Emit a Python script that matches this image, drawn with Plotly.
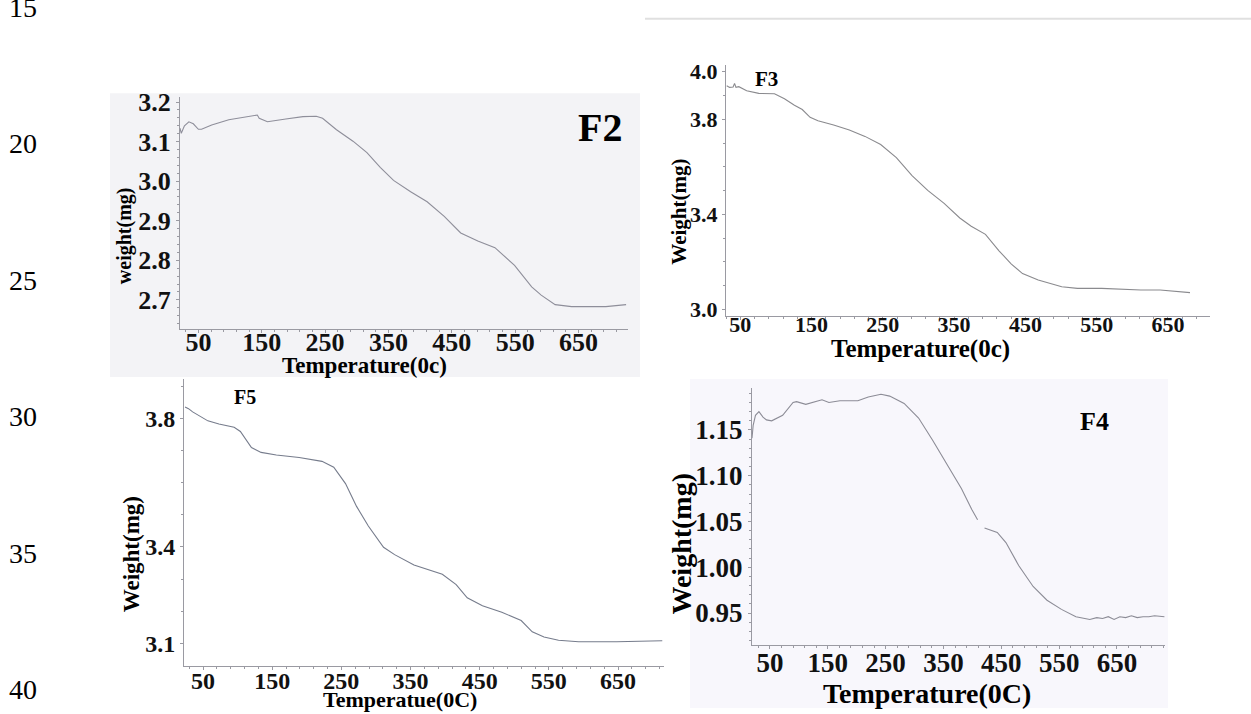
import plotly.graph_objects as go

# ---------------- data ----------------
f2_temp = [21, 23, 28, 35, 42, 50, 55, 71, 98, 124, 143, 146, 159, 188, 215, 236, 246,
           268, 294, 316, 337, 358, 385, 411, 438, 464, 491, 518, 549, 576, 591, 613,
           639, 666, 693, 725]
f2_weight = [3.134, 3.121, 3.140, 3.150, 3.145, 3.131, 3.131, 3.142, 3.155, 3.161, 3.167,
             3.159, 3.150, 3.157, 3.163, 3.164, 3.159, 3.130, 3.101, 3.072, 3.035, 3.002,
             2.973, 2.948, 2.911, 2.869, 2.849, 2.832, 2.787, 2.733, 2.712, 2.688, 2.683,
             2.683, 2.683, 2.688]

f3_temp = [31, 35, 40, 42, 44, 48, 59, 76, 98, 112, 126, 137, 148, 159, 181, 203, 225,
           247, 269, 291, 313, 336, 358, 374, 394, 413, 430, 446, 468, 501, 523, 557,
           612, 639, 681]
f3_weight = [3.941, 3.934, 3.936, 3.951, 3.934, 3.937, 3.920, 3.909, 3.907, 3.886, 3.859,
             3.841, 3.808, 3.794, 3.776, 3.755, 3.728, 3.694, 3.639, 3.563, 3.501, 3.446,
             3.385, 3.350, 3.316, 3.247, 3.192, 3.151, 3.124, 3.096, 3.089, 3.089, 3.082,
             3.082, 3.071]

f5_temp = [24, 29, 35, 46, 57, 73, 95, 104, 112, 120, 134, 156, 189, 222, 239, 256, 272,
           289, 311, 327, 355, 377, 396, 416, 432, 454, 482, 510, 526, 543, 564, 593,
           648, 714]
f5_weight = [3.835, 3.830, 3.820, 3.805, 3.792, 3.782, 3.772, 3.759, 3.734, 3.709, 3.694,
             3.686, 3.678, 3.666, 3.648, 3.597, 3.526, 3.465, 3.399, 3.376, 3.344, 3.328,
             3.315, 3.283, 3.242, 3.217, 3.197, 3.171, 3.136, 3.120, 3.110, 3.105, 3.105,
             3.108]

f4_temp = [19, 21, 25, 31, 38, 44, 53, 72, 90, 96, 112, 140, 152, 171, 202, 220, 242, 257,
           282, 307, 331, 356, 381, 399, 409, 415, 421, 443, 458, 480, 505, 529, 554, 579,
           603, 615, 625, 635, 645, 655, 665, 675, 685, 695, 705, 715, 732]
f4_weight = [1.141, 1.155, 1.166, 1.170, 1.164, 1.161, 1.160, 1.166, 1.180, 1.181, 1.178,
             1.183, 1.180, 1.182, 1.182, 1.186, 1.189, 1.187, 1.179, 1.163, 1.139, 1.113,
             1.086, 1.063, 1.052, None, 1.043, 1.038, 1.027, 1.002, 0.979, 0.964, 0.954,
             0.946, 0.943, 0.945, 0.944, 0.946, 0.943, 0.946, 0.945, 0.947, 0.945, 0.946,
             0.946, 0.947, 0.946]

x_ticks = [50, 150, 250, 350, 450, 550, 650]
f2_yticks = [2.7, 2.8, 2.9, 3.0, 3.1, 3.2]
f3_yticks = [3.0, 3.4, 3.8, 4.0]
f5_yticks = [3.1, 3.4, 3.8]
f4_yticks = [0.95, 1.00, 1.05, 1.10, 1.15]
line_numbers = ["15", "20", "25", "30", "35", "40"]

# ---------------- layout helpers ----------------
W, H = 1251, 714
def px(x):
    return x / W
def py(y):
    return 1 - y / H

SERIF = "Liberation Serif"
AX = "#9a9aa2"

fig = go.Figure()

panels = [
    dict(x=f2_temp, y=f2_weight, xd=(180, 628), yd=(90, 327), xr=[21, 728], yr=[2.626, 3.2124],
         yt=f2_yticks, fmt=".1f", fs=26, ydt=0.02, col="#8e8e9a", so=-13),
    dict(x=f3_temp, y=f3_weight, xd=(726, 1210), yd=(57, 314), xr=[30, 709], yr=[2.971, 4.029],
         yt=f3_yticks, fmt=".1f", fs=22, ydt=0.1, col="#8a8a8e", so=-15),
    dict(x=f5_temp, y=f5_weight, xd=(184, 664), yd=(378, 671), xr=[22.5, 716.5], yr=[3.030, 3.922],
         yt=f5_yticks, fmt=".1f", fs=24, ydt=0.1, col="#767c8c", so=-10),
    dict(x=f4_temp, y=f4_weight, xd=(752, 1165), yd=(387, 650), xr=[19, 733], yr=[0.9147, 1.196],
         yt=f4_yticks, fmt=".2f", fs=27, ydt=0.01, col="#8c8c96", so=-10),
]

for i, p in enumerate(panels, start=1):
    xa = "x" if i == 1 else f"x{i}"
    ya = "y" if i == 1 else f"y{i}"
    fig.add_trace(go.Scatter(x=p["x"], y=p["y"], mode="lines", xaxis=xa, yaxis=ya,
                             line=dict(color=p["col"], width=1.1), connectgaps=False,
                             showlegend=False, hoverinfo="skip"))
    tf = dict(family=SERIF, size=p["fs"], color="#111111", weight=700)
    xkey = "xaxis" if i == 1 else f"xaxis{i}"
    ykey = "yaxis" if i == 1 else f"yaxis{i}"
    fig.update_layout({
        xkey: dict(domain=[px(p["xd"][0]), px(p["xd"][1])], range=p["xr"], anchor=ya,
                   tickvals=x_ticks, ticktext=[str(v) for v in x_ticks], tickfont=tf,
                   ticklabelstandoff=p["so"],
                   showline=True, linecolor=AX, linewidth=1, ticks="outside", ticklen=3,
                   tickcolor=AX, showgrid=False, zeroline=False,
                   minor=dict(ticks="outside", ticklen=2, dtick=20, tick0=10, tickcolor=AX,
                              showgrid=False)),
        ykey: dict(domain=[py(p["yd"][1]), py(p["yd"][0])], range=p["yr"], anchor=xa,
                   tickvals=p["yt"], ticktext=[format(v, p["fmt"]) for v in p["yt"]],
                   tickfont=tf, showline=True, linecolor=AX, linewidth=1, ticks="outside",
                   ticklen=3, tickcolor=AX, showgrid=False, zeroline=False,
                   minor=dict(ticks="outside", ticklen=2, dtick=p["ydt"], tickcolor=AX,
                              showgrid=False)),
    })

# ---------------- text ----------------
def ann(text, x, y, size, bold=True, angle=0):
    fig.add_annotation(text=text, x=px(x), y=py(y), xref="paper", yref="paper",
                       xanchor="center", yanchor="middle", showarrow=False, textangle=angle,
                       font=dict(family=SERIF, size=size, color="#000000",
                                 weight=700 if bold else 400))

# panel labels
ann("F2", 600, 121, 40)
ann("F3", 766, 72, 21)
ann("F5", 245, 396, 20)
ann("F4", 1094, 421, 26)

# axis titles
ann("weight(mg)", 124, 232, 20, angle=-90)
ann("Temperature(0c)", 364, 364, 23)
ann("Weight(mg)", 679, 207, 21, angle=-90)
ann("Temperature(0c)", 920, 347, 25)
ann("Weight(mg)", 131, 557, 23, angle=-90)
ann("Temperatue(0C)", 400, 705, 22)
ann("Weight(mg)", 682, 546, 28, angle=-90)
ann("Temperature(0C)", 927, 699, 28)

# document line numbers
for k, t in enumerate(line_numbers):
    ann(t, 23, -2 + 139.5 * k, 28, bold=False)

# scanned-panel backgrounds
shapes = [
    dict(type="rect", xref="paper", yref="paper", x0=px(110), x1=px(640), y0=py(376), y1=py(86),
         fillcolor="#f3f3f6", line=dict(width=0), layer="below"),
    dict(type="rect", xref="paper", yref="paper", x0=px(690), x1=px(1168), y0=py(714), y1=py(378),
         fillcolor="#f8f7fc", line=dict(width=0), layer="below"),
    dict(type="line", xref="paper", yref="paper", x0=px(645), x1=px(1251), y0=py(10), y1=py(10),
         line=dict(color="#e0e0e0", width=2), layer="below"),
]

fig.update_layout(
    width=W, height=H, margin=dict(l=0, r=0, t=0, b=0),
    paper_bgcolor="#ffffff", plot_bgcolor="rgba(0,0,0,0)",
    shapes=shapes, showlegend=False,
)

fig.write_html("out.html")
